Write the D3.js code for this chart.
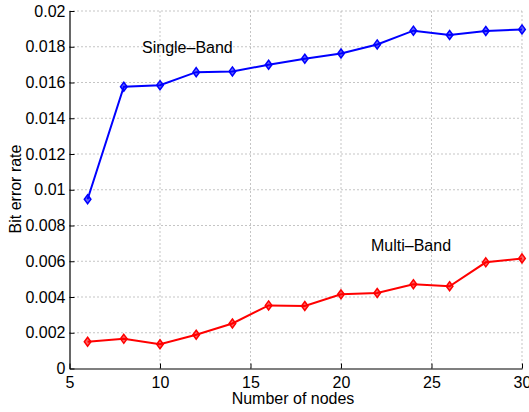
<!DOCTYPE html>
<html><head><meta charset="utf-8">
<script src="https://cdn.jsdelivr.net/npm/d3@7"></script>
<style>body{margin:0;background:#fff}svg{display:block}text{font-family:"Liberation Sans",Arial,sans-serif}</style>
</head><body>
<svg id="c" width="529" height="412"></svg>
<script>
const nodes = [6,8,10,12,14,16,18,20,22,24,26,28,30];
const singleBand = [0.00947,0.01576,0.01585,0.01658,0.01662,0.01699,0.01733,0.01762,0.01813,0.0189,0.01866,0.01888,0.01897];
const multiBand = [0.0015,0.00166,0.00136,0.00189,0.00252,0.00353,0.0035,0.00415,0.00422,0.00471,0.0046,0.00594,0.00616];
const xTicks = [5,10,15,20,25,30];
const yTicks = [0,0.002,0.004,0.006,0.008,0.01,0.012,0.014,0.016,0.018,0.02];
const yTickLabels = ["0","0.002","0.004","0.006","0.008","0.01","0.012","0.014","0.016","0.018","0.02"];

const svg = d3.select("#c");
const L=69.5, R=522, T=11, B=368.5;
const x = d3.scaleLinear().domain([5,30]).range([L,R]);
const y = d3.scaleLinear().domain([0,0.02]).range([B,T]);

// grid
const g = svg.append("g");
g.selectAll(".gx").data(xTicks.slice(1)).join("line")
  .attr("x1",d=>x(d)).attr("x2",d=>x(d)).attr("y1",B).attr("y2",T)
  .attr("stroke","#8a8a8a").attr("stroke-width",1).attr("stroke-dasharray","1,3");
g.selectAll(".gy").data(yTicks.slice(1)).join("line")
  .attr("y1",d=>y(d)).attr("y2",d=>y(d)).attr("x1",L).attr("x2",R)
  .attr("stroke","#8a8a8a").attr("stroke-width",1).attr("stroke-dasharray","1,3");

// axes
const xAxis = d3.axisBottom(x).tickValues(xTicks).tickSizeInner(-5).tickSizeOuter(0).tickPadding(8).tickFormat(d3.format("d"));
const yAxis = d3.axisLeft(y).tickValues(yTicks).tickSizeInner(-5).tickSizeOuter(0).tickPadding(4).tickFormat((d,i)=>yTickLabels[i]);
const gx = svg.append("g").attr("transform",`translate(0,${B})`).call(xAxis);
const gy = svg.append("g").attr("transform",`translate(${L},0)`).call(yAxis);
[gx,gy].forEach(a=>{
  a.select(".domain").attr("stroke","#000").attr("stroke-width",1.2);
  a.selectAll(".tick line").attr("stroke","#000");
  a.selectAll("text").attr("fill","#000").attr("font-size",16).attr("font-family","Liberation Sans, Arial, sans-serif");
});

svg.append("text").attr("x",293).attr("y",404).attr("text-anchor","middle").attr("font-size",16).text("Number of nodes");
svg.append("text").attr("transform","translate(21,189) rotate(-90)").attr("text-anchor","middle").attr("font-size",16).text("Bit error rate");

function series(vals,color){
  const line = d3.line().x((d,i)=>x(nodes[i])).y(d=>y(d));
  svg.append("path").datum(vals).attr("d",line).attr("fill","none").attr("stroke",color).attr("stroke-width",2);
  svg.selectAll(null).data(vals).join("path")
    .attr("transform",(d,i)=>`translate(${x(nodes[i])},${y(d)})`)
    .attr("d","M0,-4.5L3.3,0L0,4.5L-3.3,0Z")
    .attr("fill",color).attr("fill-opacity",0.6).attr("stroke",color).attr("stroke-width",1.5);
}
series(singleBand,"#0000ff");
series(multiBand,"#ff0000");

svg.append("text").attr("x",142).attr("y",53).attr("font-size",16).text("Single\u2013Band");
svg.append("text").attr("x",371).attr("y",251).attr("font-size",16).text("Multi\u2013Band");
</script>
</body></html>
